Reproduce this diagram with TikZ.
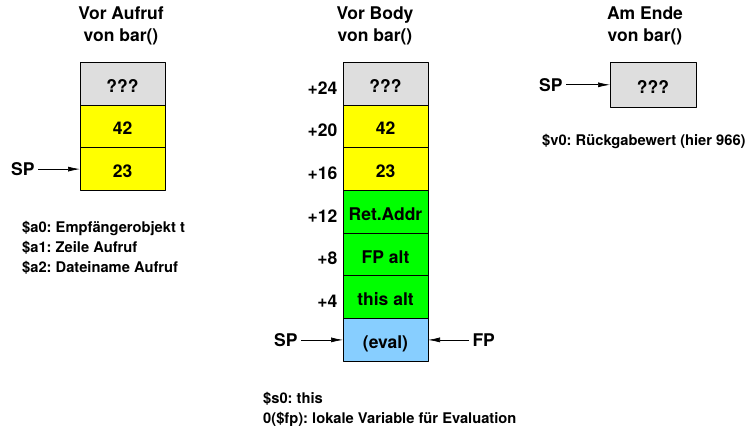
\documentclass[tikz,border=0pt]{standalone}
\usepackage{fontspec}
\setmainfont{TeX Gyre Heros}
\usetikzlibrary{positioning,arrows.meta}
\definecolor{cellgrey}{HTML}{DEDEDE}
\definecolor{cellyellow}{HTML}{FFFF00}
\definecolor{cellgreen}{HTML}{00FF00}
\definecolor{cellblue}{HTML}{87CEFF}
\frenchspacing

\begin{document}
\begin{tikzpicture}[x=1pt, y=-1pt, line join = round,
  font=\fontsize{17.5}{22}\selectfont\bfseries,
  cell/.style={draw, line width=0.8pt, minimum width=85pt, minimum height=42.7pt,
    inner sep=0pt, outer sep=0pt, text height=17pt, text depth=0pt},
  ptr/.style={-{Latex[length=12pt,width=5pt]}, line width=0.7pt},
  ofs/.style={anchor=east, inner sep=0pt, xshift=-5.5pt, yshift=-4pt},
  note/.style={font=\fontsize{14.7}{20}\selectfont\bfseries, align=left,
    anchor=north west, inner sep=0pt}]
\useasboundingbox (0,0) rectangle (748,426);

% vor Aufruf
\node[align=center] (titleA) at (121,26) {Vor Aufruf\\von bar()};
\node[cell, fill=cellgrey] (a1) at (122.5,83.7) {???};
\node[cell, fill=cellyellow, below=0pt of a1] (a2) {42};
\node[cell, fill=cellyellow, below=0pt of a2] (a3) {23};
\node[left=42pt of a3] (spA) {SP};
\draw[ptr] (spA) -- (a3);
\node[note] (regsA) at (22,221) {\$a0: Empfängerobjekt t\\\$a1: Zeile Aufruf\\\$a2: Dateiname Aufruf};

% vor Body
\node[align=center] (titleB) at (375,26) {Vor Body\\von bar()};
\node[cell, fill=cellgrey] (b1) at (385.5,83.7) {???};
\node[cell, fill=cellyellow, below=0pt of b1] (b2) {42};
\node[cell, fill=cellyellow, below=0pt of b2] (b3) {23};
\node[cell, fill=cellgreen, below=0pt of b3] (b4) {Ret.Addr};
\node[cell, fill=cellgreen, below=0pt of b4] (b5) {FP alt};
\node[cell, fill=cellgreen, below=0pt of b5] (b6) {this alt};
\node[cell, fill=cellblue, below=0pt of b6] (b7) {(eval)};
\foreach \c/\o in {b1/24,b2/20,b3/16,b4/12,b5/8,b6/4}
    \node[ofs] (off\o) at (\c.west) {+\o};
\node[left=42pt of b7] (spB) {SP};
\node[right=41pt of b7] (fpB) {FP};
\draw[ptr] (spB) -- (b7);
\draw[ptr] (fpB) -- (b7);
\node[note] (regsB) at (263,392) {\$s0: this\\0(\$fp): lokale Variable für Evaluation};

% am Ende
\node[align=center] (titleC) at (645,26) {Am Ende\\von bar()};
\node[cell, fill=cellgrey, minimum width=86pt, minimum height=44.3pt] (c1) at (653,84.8) {???};
\node[left=44pt of c1] (spC) {SP};
\draw[ptr] (spC) -- (c1);
\node[note] (regsC) at (542,134) {\$v0: Rückgabewert (hier 966)};
\end{tikzpicture}
\end{document}
